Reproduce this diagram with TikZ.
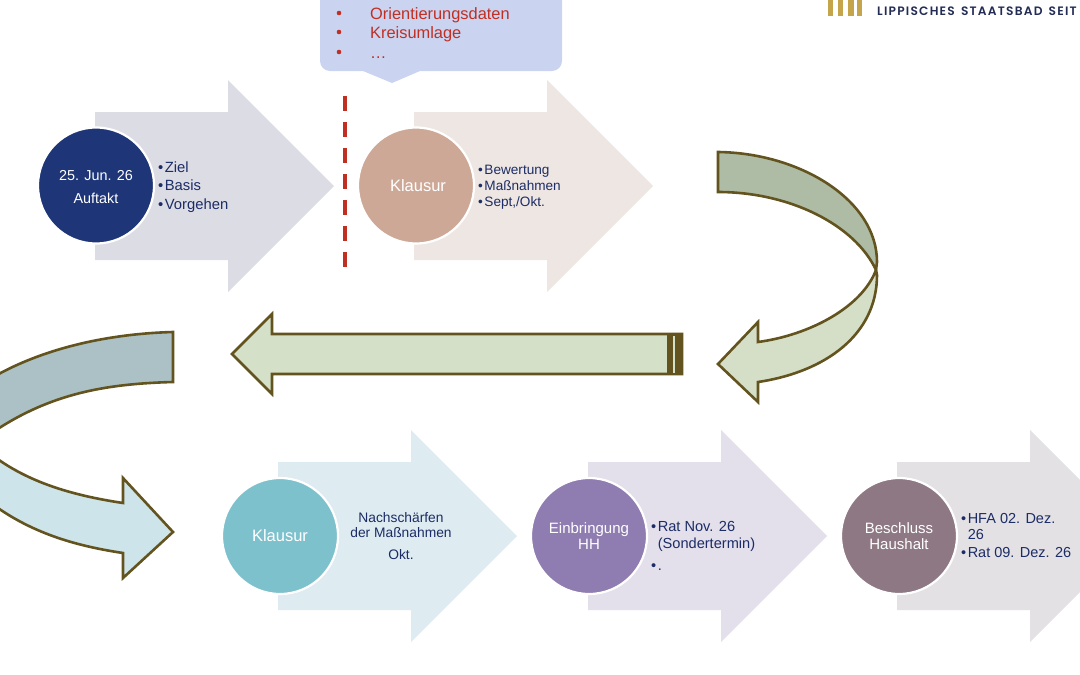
\documentclass[tikz,border=0pt]{standalone}
\usepackage{fontspec}
\setmainfont{Liberation Sans}
\newfontfamily\logofont[LetterSpace=10,WordSpace=1.5]{Poppins SemiBold}
\definecolor{navy}{HTML}{1C2C66}
\definecolor{logonavy}{HTML}{232C55}
\definecolor{edgeol}{HTML}{63531E}
\definecolor{redd}{HTML}{C12E22}
\definecolor{gold}{HTML}{C5A54B}
\newcommand{\bul}{•\kern1.5pt}
\tikzset{
  x=1pt,y=-1pt,
  disc/.style={circle,draw=white,line width=2.2pt,minimum size=116pt,inner sep=0pt,align=center,text=white},
  note/.style={inner sep=0pt,align=left,anchor=north west,text=navy},
  curved/.style={draw=edgeol,line width=2.6pt,line join=miter},
  redtext/.style={inner sep=0pt,anchor=base west,text=redd,font=\fontsize{16.4}{19}\selectfont},
}
\newcommand{\blockarrow}[3]{%
  \fill[#3] (#1,#2-74)--++(133,0)--++(0,-32)--++(106,106)--++(-106,106)--++(0,-32)--++(-133,0)--cycle;}
\begin{document}
\begin{tikzpicture}
\useasboundingbox (0,0) rectangle (1080,675);
\clip (0,0) rectangle (1080,675);
% chevrons
\blockarrow{95}{186}{fill={rgb,255:red,220;green,220;blue,228}}
\blockarrow{414}{186}{fill={rgb,255:red,238;green,230;blue,226}}
\blockarrow{278}{536}{fill={rgb,255:red,222;green,235;blue,240}}
\blockarrow{588}{536}{fill={rgb,255:red,227;green,223;blue,235}}
\blockarrow{897}{536}{fill={rgb,255:red,227;green,225;blue,228}}
% discs
\node[disc,fill={rgb,255:red,30;green,54;blue,120},font=\fontsize{14.4}{23}\selectfont] (d1) at (96,185.5) {\rule{0pt}{13.5pt}25. Jun. 26\\Auftakt};
\node[disc,fill={rgb,255:red,205;green,168;blue,150},font=\fontsize{16.5}{20}\selectfont] (d2) at (416,185.5) {\hspace{4pt}Klausur};
\node[disc,fill={rgb,255:red,125;green,193;blue,204},font=\fontsize{16.5}{20}\selectfont] (d3) at (280,536) {Klausur};
\node[disc,fill={rgb,255:red,143;green,124;blue,176},font=\fontsize{15}{15.5}\selectfont] (d4) at (589,536) {Einbringung\\HH};
\node[disc,fill={rgb,255:red,142;green,120;blue,132},font=\fontsize{15}{15.5}\selectfont] (d5) at (899,536) {Beschluss\\Haushalt};
% texts
\node[note,font=\fontsize{14.8}{18.5}\selectfont] (t1) at (158,161.5) {\bul Ziel\\\bul Basis\\\bul Vorgehen};
\node[note,font=\fontsize{13.6}{16}\selectfont] (t2) at (478,165) {\bul Bewertung\\\bul Maßnahmen\\\bul Sept,/Okt.};
\node[note,align=center,anchor=center,font=\fontsize{13.8}{15.5}\selectfont] (t3) at (401,536) {Nachschärfen\\der Maßnahmen\\[6pt]Okt.};
\node[note,font=\fontsize{14.6}{17}\selectfont] (t4) at (651,521.5) {\bul Rat Nov. 26\\\phantom{\bul}(Sondertermin)\\[5pt]\bul .};
\node[note,font=\fontsize{14.5}{16.5}\selectfont] (t5) at (961,513) {\bul HFA 02. Dez.\\\phantom{\bul}26\\[1.5pt]\bul Rat 09. Dez. 26};
% bubble
\fill[fill={rgb,255:red,202;green,212;blue,241}] (320,-20) -- (320,61) arc[start angle=180,end angle=90,radius=10] -- (363,71) -- (392,83) -- (420,71) -- (552,71) arc[start angle=90,end angle=0,radius=10] -- (562,-20) -- cycle;
\node[redtext] (b1) at (370,19) {Orientierungsdaten};
\node[redtext] (b2) at (370,38) {Kreisumlage};
\node[redtext] (b3) at (370,58) {…};
\foreach \yy in {13,32,52} \fill[redd] (339,\yy) circle[radius=2.3];
% red dashed
\draw[redd,line width=4.4pt,dash pattern=on 15pt off 11pt] (345,96) -- (345,268);
% right curved arrow
\draw[curved,fill={rgb,255:red,175;green,188;blue,165}] (718,152) .. controls (800,153) and (877,200) .. (877,262) -- (876,270) .. controls (855,225) and (790,192) .. (718,192) -- cycle;
\draw[curved,fill={rgb,255:red,213;green,223;blue,200}] (876,270) .. controls (862,307) and (810,335) .. (758,342) -- (758,322) -- (718,364) -- (758,402) -- (758,382) .. controls (825,372) and (877,335) .. (877,275) -- cycle;
% middle arrow
\draw[curved,fill={rgb,255:red,213;green,224;blue,200}] (682,334) -- (272,334) -- (272,314) -- (232,354) -- (272,394) -- (272,374) -- (682,374) -- cycle;
\fill[edgeol] (667,333) rectangle (683,375);
\fill[fill={rgb,255:red,213;green,224;blue,200}] (672.5,335.5) rectangle (675,372.5);
% left curved arrow
\draw[curved,fill={rgb,255:red,172;green,193;blue,197}] (173,332) -- (173,382) .. controls (100,384) and (40,395) .. (-25,445) -- (-30,392) .. controls (25,352) and (100,334) .. (173,332) -- cycle;
\draw[curved,fill={rgb,255:red,206;green,228;blue,235}] (-25,440) .. controls (15,480) and (70,495) .. (123,503) -- (123,478) -- (173,532) -- (123,578) -- (123,553) .. controls (70,545) and (20,530) .. (-25,490) -- cycle;
% logo
\foreach \xa/\xb in {827.5/833,837.5/843,848/854,856.5/862} \fill[gold] (\xa,-2) rectangle (\xb,16);
\node[inner sep=0pt,anchor=west,text=logonavy,font=\logofont\fontsize{12.2}{14}\selectfont] (logo) at (877,11.5) {LIPPISCHES STAATSBAD SEIT};
\end{tikzpicture}
\end{document}
